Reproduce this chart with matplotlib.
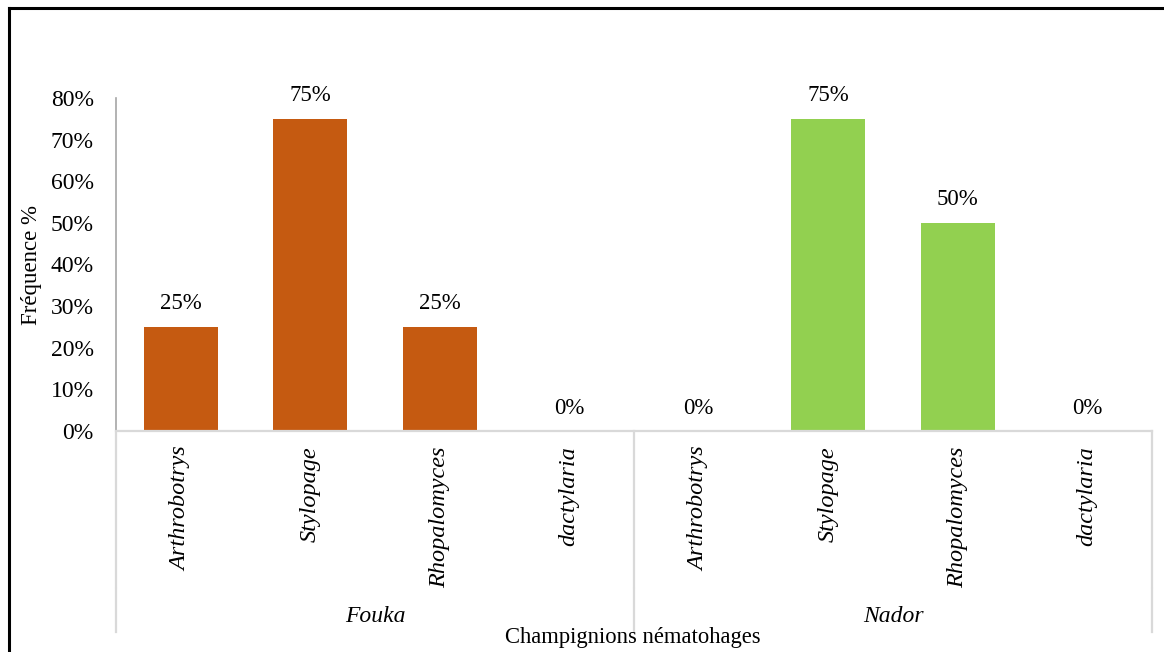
import matplotlib.pyplot as plt
from matplotlib.lines import Line2D
import matplotlib.transforms as mtransforms

plt.rcParams['font.family'] = ['Liberation Serif', 'DejaVu Serif']

sites = ['Fouka', 'Nador']
genera = ['Arthrobotrys', 'Stylopage', 'Rhopalomyces', 'dactylaria']
fouka = [0.25, 0.75, 0.25, 0.0]
nador = [0.0, 0.75, 0.50, 0.0]
colors = ['#C55A11', '#92D050']
yticks = [0, 0.1, 0.2, 0.3, 0.4, 0.5, 0.6, 0.7, 0.8]

W, H = 1164, 652
fig = plt.figure(figsize=(W / 100, H / 100), dpi=100)
ax = fig.add_axes([116 / W, 1 - 431 / H, (1152 - 116) / W, (431 - 98) / H])

values = fouka + nador
labels = genera + genera
xs = list(range(len(values)))
bar_colors = [colors[0]] * len(fouka) + [colors[1]] * len(nador)
bars = ax.bar(xs, values, width=0.57, color=bar_colors)

for x, v in zip(xs, values):
    ax.annotate(f'{v:.0%}', (x, v), xytext=(0, 9), textcoords='offset points',
                ha='center', va='bottom', fontsize=16.5)

ax.set_xlim(-0.5, len(values) - 0.5)
ax.set_ylim(0, 0.8)
ax.set_yticks(yticks)
ax.set_yticklabels([f'{t:.0%}' for t in yticks], fontsize=17)
ax.set_xticks(xs)
ax.set_xticklabels(labels, rotation=90, fontsize=17.5, style='italic')
ax.tick_params(axis='both', length=0)
ax.tick_params(axis='y', pad=16)
ax.tick_params(axis='x', pad=11)

for s in ['top', 'right']:
    ax.spines[s].set_visible(False)
ax.spines['left'].set_color('#A6A6A6')
ax.spines['left'].set_linewidth(1.2)
ax.spines['bottom'].set_color('#D9D9D9')
ax.spines['bottom'].set_linewidth(1.6)

# multi-level category axis: separators and group names
trans = mtransforms.blended_transform_factory(ax.transData, ax.transAxes)
px = 1 / (431 - 98)
for xb in [-0.5, 3.5, 7.5]:
    ax.plot([xb, xb], [0, -156 * px], transform=trans, color='#D9D9D9',
            lw=1.6, clip_on=False)
    ax.plot([xb, xb], [-158 * px, -201 * px], transform=trans, color='#D9D9D9',
            lw=1.6, clip_on=False)
for i, site in enumerate(sites):
    ax.text(i * 4 + 1.5, -186 * px, site, transform=trans, ha='center',
            va='center', fontsize=17, style='italic')

fig.text(633 / W, 1 - 637 / H, 'Champignions nématohages', ha='center',
         va='center', fontsize=16.3)
fig.text(32 / W, 1 - 265 / H, 'Fréquence %', ha='center', va='center',
         rotation=90, fontsize=16.5)

# outer frame (top and left only visible)
fig.add_artist(Line2D([9 / W, 1], [1 - 8 / H, 1 - 8 / H], color='black', lw=2.2))
fig.add_artist(Line2D([9 / W, 9 / W], [0, 1 - 8 / H], color='black', lw=2.2))

fig.savefig('out.png', dpi=100)
